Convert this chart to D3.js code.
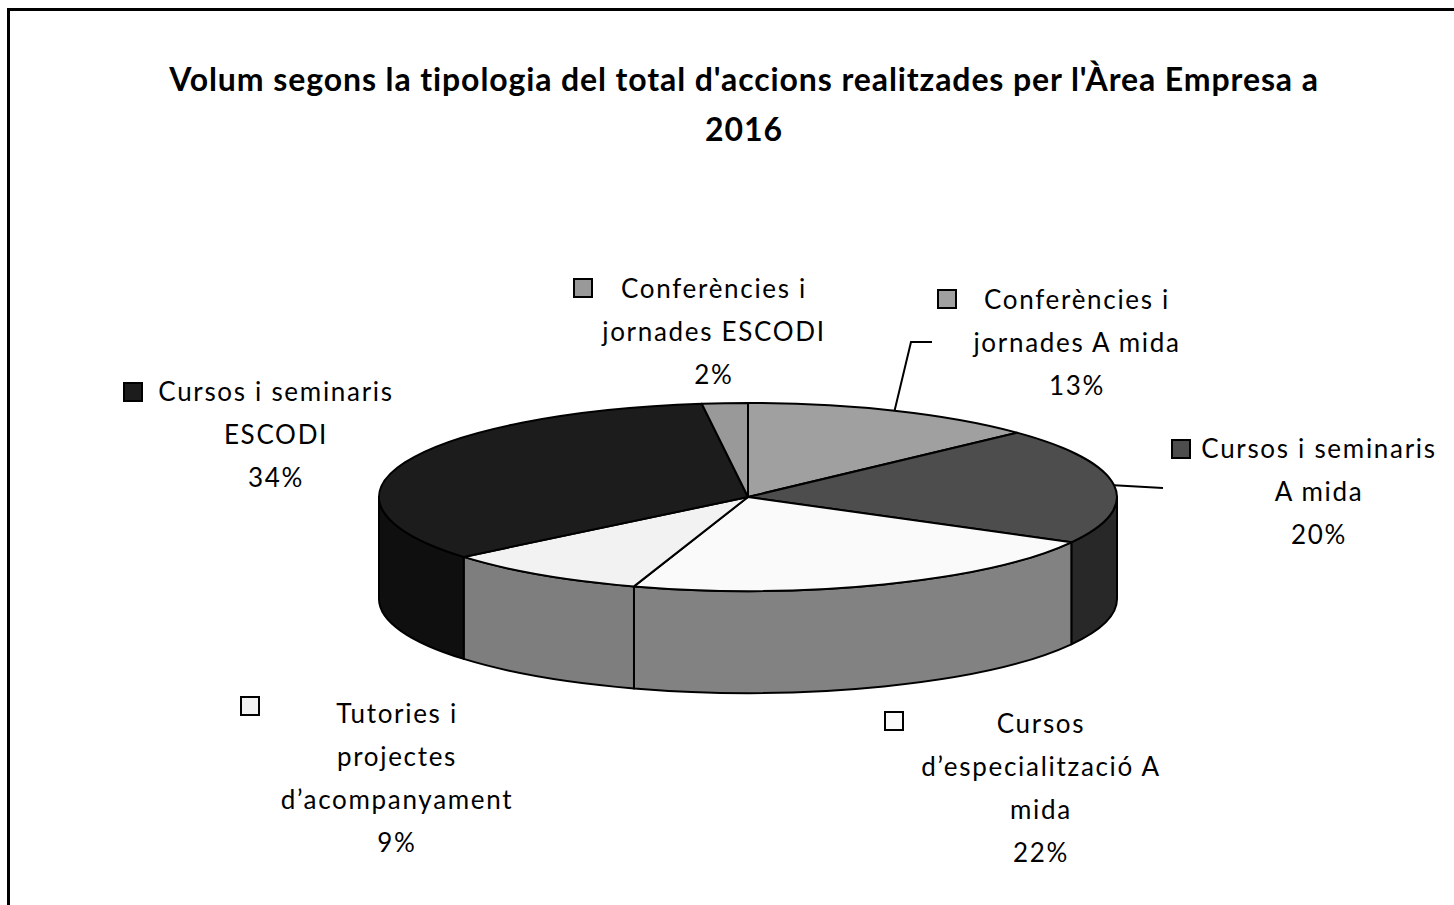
<!DOCTYPE html>
<html>
<head>
<meta charset="utf-8">
<script src="https://cdn.jsdelivr.net/npm/d3@7"></script>
<style>
  html, body { margin: 0; padding: 0; background: #fff; }
  svg { display: block; }
  text { font-family: Lato, "Open Sans", sans-serif; fill: #000; }
</style>
</head>
<body>
<div id="chart"></div>
<script>
const titleLines = ["Volum segons la tipologia del total d'accions realitzades per l'Àrea Empresa a", "2016"];
const categories = [
  "Conferències i jornades A mida",
  "Cursos i seminaris A mida",
  "Cursos d’especialització A mida",
  "Tutories i projectes d’acompanyament",
  "Cursos i seminaris ESCODI",
  "Conferències i jornades ESCODI"
];
const values = [13, 20, 22, 9, 34, 2];
const labelLines = [
  ["Conferències i", "jornades A mida"],
  ["Cursos i seminaris", "A mida"],
  ["Cursos", "d’especialització A", "mida"],
  ["Tutories i", "projectes", "d’acompanyament"],
  ["Cursos i seminaris", "ESCODI"],
  ["Conferències i", "jornades ESCODI"]
];
const topColors = ["#a0a0a0", "#4d4d4d", "#fafafa", "#f2f2f2", "#1c1c1c", "#999999"];

// label placement (text centre, first baseline, legend key corner)
const labelPos = [
  { x: 1076, y: 309, kx: 938, ky: 290, leader: [[911, 342], [932, 342]] },
  { x: 1318, y: 458, kx: 1172, ky: 440, leader: [[1163, 488]] },
  { x: 1040, y: 733, kx: 885, ky: 712 },
  { x: 396, y: 723, kx: 241, ky: 697 },
  { x: 275, y: 401, kx: 124, ky: 383 },
  { x: 713, y: 298, kx: 574, ky: 279 }
];

const width = 1454, height = 905;
const cx = 748, cy = 497, rx = 369, ry = 94, depth = 102;
const lineH = 43;

const svg = d3.select('#chart').append('svg')
  .attr('width', width)
  .attr('height', height);

svg.append('rect')
  .attr('x', 8.5).attr('y', 9.5)
  .attr('width', 1470).attr('height', 920)
  .attr('fill', '#fff')
  .attr('stroke', '#000')
  .attr('stroke-width', 3);

svg.append('text')
  .attr('text-anchor', 'middle')
  .attr('font-weight', 'bold')
  .attr('font-size', 32)
  .attr('letter-spacing', 0.9)
  .selectAll('tspan')
  .data(titleLines)
  .join('tspan')
  .attr('x', 744)
  .attr('y', (d, i) => 91 + i * 50)
  .text(d => d);

const pie = d3.pie().sort(null).value(d => d);
const arcs = pie(values);

const pt = (a, dy = 0) => [cx + rx * Math.sin(a), cy - ry * Math.cos(a) + dy];
const sideColor = c => {
  const r = d3.rgb(c);
  return d3.rgb(r.r * 0.52, r.g * 0.52, r.b * 0.52).formatHex();
};

// outer walls, only the front half (pi/2 .. 3pi/2) is visible
const wallG = svg.append('g');
arcs.forEach((d, i) => {
  const a0 = Math.max(d.startAngle, Math.PI / 2);
  const a1 = Math.min(d.endAngle, 3 * Math.PI / 2);
  if (a1 <= a0) return;
  const large = a1 - a0 > Math.PI ? 1 : 0;
  const p0 = pt(a0), p1 = pt(a1), q1 = pt(a1, depth), q0 = pt(a0, depth);
  const path = `M${p0}A${rx},${ry} 0 ${large} 1 ${p1}L${q1}A${rx},${ry} 0 ${large} 0 ${q0}Z`;
  wallG.append('path')
    .attr('d', path)
    .attr('fill', sideColor(topColors[i]))
    .attr('stroke', '#000')
    .attr('stroke-width', 2)
    .attr('stroke-linejoin', 'round');
});

// top faces
const topG = svg.append('g');
arcs.forEach((d, i) => {
  const large = d.endAngle - d.startAngle > Math.PI ? 1 : 0;
  const p0 = pt(d.startAngle), p1 = pt(d.endAngle);
  topG.append('path')
    .attr('d', `M${cx},${cy}L${p0}A${rx},${ry} 0 ${large} 1 ${p1}Z`)
    .attr('fill', topColors[i])
    .attr('stroke', '#000')
    .attr('stroke-width', 2)
    .attr('stroke-linejoin', 'round');
});

// leader lines start on the rim at the slice middle
const total = d3.sum(values);
const fmt = d3.format('.0%');
arcs.forEach((d, i) => {
  const lp = labelPos[i];
  if (lp.leader) {
    const mid = (d.startAngle + d.endAngle) / 2;
    const pts = [pt(mid)].concat(lp.leader);
    svg.append('path')
      .attr('d', d3.line()(pts))
      .attr('fill', 'none')
      .attr('stroke', '#000')
      .attr('stroke-width', 2);
  }
});

const labelG = svg.append('g');
arcs.forEach((d, i) => {
  const lp = labelPos[i];
  const lines = labelLines[i].concat([fmt(d.data / total)]);
  labelG.append('rect')
    .attr('x', lp.kx).attr('y', lp.ky)
    .attr('width', 18).attr('height', 18)
    .attr('fill', topColors[i])
    .attr('stroke', '#000')
    .attr('stroke-width', 2);
  labelG.append('text')
    .attr('text-anchor', 'middle')
    .attr('font-size', 26)
    .attr('letter-spacing', 1.7)
    .selectAll('tspan')
    .data(lines)
    .join('tspan')
    .attr('x', lp.x + 1)
    .attr('y', (t, j) => lp.y + j * lineH)
    .text(t => t);
});
</script>
</body>
</html>
